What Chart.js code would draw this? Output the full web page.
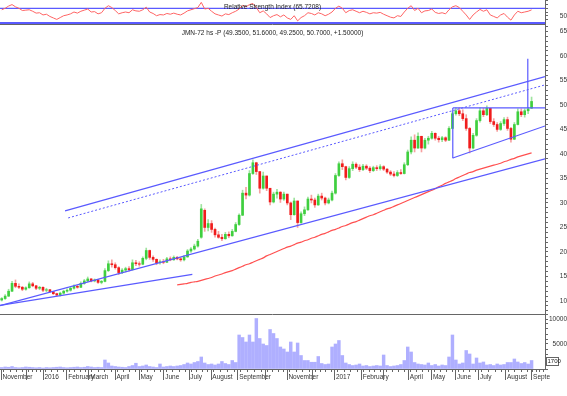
<!DOCTYPE html>
<html>
<head>
<meta charset="utf-8">
<script src="https://cdn.jsdelivr.net/npm/chart.js@4.4.1/dist/chart.umd.min.js"></script>
<style>
  body { margin: 0; background: #fff; }
  #wrap { position: relative; width: 567px; height: 396px; overflow: hidden; background: #fff; }
  canvas { position: absolute; left: 0; }
</style>
</head>
<body>
<div id="wrap">
  <canvas id="rsiChart" width="567" height="24" style="top:0"></canvas>
  <canvas id="priceChart" width="567" height="290" style="top:24px"></canvas>
  <canvas id="volChart" width="567" height="82" style="top:314px"></canvas>
</div>
<script>
// daily candles, Nov 2015 - Sep 2017 (one candle per ~3 sessions)
var open = [10.2,10.5,11.0,12.0,13.6,13.0,12.8,12.4,12.7,13.5,
  13.1,12.6,12.8,12.2,12.3,11.9,11.5,11.2,11.6,12.0,
  12.2,12.6,13.0,12.8,13.6,14.1,14.5,14.1,14.3,13.8,
  14.0,16.2,17.6,17.4,16.8,15.8,16.3,16.6,16.4,17.8,
  17.6,17.5,18.7,20.3,18.9,18.5,17.8,18.0,17.9,18.6,
  18.4,18.9,18.6,18.4,19.0,20.2,20.6,21.2,23.0,28.5,
  25.0,25.8,24.6,23.5,23.0,22.7,23.6,23.3,24.2,25.6,
  27.5,32.0,31.6,36.0,38.2,36.4,33.0,35.5,33.0,30.2,
  31.8,32.2,30.8,31.8,30.0,27.6,30.4,26.0,27.8,28.6,
  30.8,30.6,29.6,31.4,31.0,30.0,30.6,32.0,35.6,38.0,
  37.4,35.2,37.0,37.9,37.3,36.8,37.5,37.1,36.6,37.2,
  37.0,37.4,36.9,36.3,35.9,35.6,36.2,36.0,37.8,40.4,
  42.8,41.2,43.6,41.2,42.8,43.2,44.2,43.2,42.9,43.3,
  42.8,45.2,48.2,48.8,48.2,47.2,45.2,41.2,43.8,46.8,
  48.8,48.0,49.3,46.6,46.0,45.0,46.2,47.0,45.2,43.0,
  46.0,48.6,48.0,48.8,49.35];
var high = [10.7,11.3,12.4,14.0,14.3,13.5,13.0,12.9,13.9,13.8,
  13.2,13.0,12.9,12.6,12.4,11.9,11.6,11.8,12.2,12.5,
  12.8,13.3,13.2,13.9,14.4,14.9,14.6,14.5,14.4,14.2,
  16.6,18.2,18.4,17.8,17.0,16.6,16.9,17.0,18.4,18.3,
  18.0,19.0,20.8,20.4,19.2,18.6,18.4,18.5,18.9,19.0,
  19.2,19.1,18.9,19.3,20.5,20.9,21.6,22.6,29.7,28.8,
  26.6,26.4,24.9,24.2,23.6,24.0,24.1,24.6,26.0,27.8,
  32.6,33.2,36.6,38.8,38.3,36.4,36.3,35.5,33.0,32.2,
  32.8,32.3,32.2,31.8,30.2,31.0,30.4,28.2,29.2,31.2,
  31.6,31.0,31.8,32.0,31.2,31.0,32.4,36.0,38.4,38.8,
  37.5,37.4,38.4,38.2,37.8,37.9,37.8,37.4,37.5,37.6,
  37.8,37.6,37.0,36.6,36.4,36.6,36.8,38.2,40.8,43.5,
  43.9,44.3,43.6,43.2,43.6,44.6,44.3,43.6,43.6,43.5,
  45.6,48.6,49.4,49.4,49.0,48.0,45.4,44.2,47.2,49.4,
  49.3,49.8,49.3,47.2,46.4,46.6,47.4,47.5,45.4,46.4,
  49.2,49.2,49.2,49.5,51.6];
var low = [10.0,10.3,10.9,11.9,12.7,12.5,12.1,12.2,12.6,12.9,
  12.3,12.3,11.9,11.9,11.7,11.3,11.0,11.0,11.4,11.8,
  12.0,12.4,12.6,12.7,13.4,13.9,13.9,13.9,13.6,13.5,
  13.9,16.0,16.9,16.5,15.4,15.6,15.9,16.1,16.3,17.2,
  17.1,17.4,18.4,18.5,18.1,17.4,17.5,17.6,17.8,18.2,
  18.3,18.4,18.1,18.2,18.9,19.9,20.4,21.0,22.8,24.2,
  24.3,24.0,23.0,22.8,22.3,22.6,22.9,23.2,24.1,25.4,
  27.4,30.8,31.4,35.8,35.8,32.0,32.8,32.5,29.6,30.0,
  31.0,30.1,30.5,29.6,26.6,27.5,25.0,25.8,27.4,28.5,
  30.0,29.1,29.5,30.6,29.6,29.8,30.4,31.8,35.4,36.8,
  34.7,35.0,36.6,37.0,36.4,36.6,36.8,36.2,36.4,36.6,
  36.7,36.6,36.0,35.6,35.3,35.4,35.8,35.9,37.6,40.0,
  40.4,41.1,40.4,41.0,42.0,43.0,42.8,42.4,42.5,42.5,
  42.7,45.1,47.9,47.8,46.8,44.8,40.2,41.0,43.6,46.5,
  47.6,47.8,46.2,45.6,44.6,44.8,45.8,44.8,42.4,42.9,
  45.9,47.6,47.5,48.2,49.25];
var close = [10.5,11.0,12.0,13.6,13.0,12.8,12.4,12.7,13.5,13.1,
  12.6,12.8,12.2,12.3,11.9,11.5,11.2,11.6,12.0,12.2,
  12.6,13.0,12.8,13.6,14.1,14.5,14.1,14.3,13.8,14.0,
  16.2,17.6,17.4,16.8,15.8,16.3,16.6,16.4,17.8,17.6,
  17.5,18.7,20.3,18.9,18.5,17.8,18.0,17.9,18.6,18.4,
  18.9,18.6,18.4,19.0,20.2,20.6,21.2,22.2,28.8,25.0,
  25.8,24.6,23.5,23.0,22.7,23.6,23.3,24.2,25.6,27.5,
  32.0,31.6,36.0,38.2,36.4,33.0,35.5,33.0,30.2,31.8,
  32.2,30.8,31.8,30.0,27.6,30.4,26.0,27.8,28.6,30.8,
  30.6,29.6,31.4,31.0,30.0,30.6,32.0,35.6,38.0,37.4,
  35.2,37.0,37.9,37.3,36.8,37.5,37.1,36.6,37.2,37.0,
  37.4,36.9,36.3,35.9,35.6,36.2,36.0,37.8,40.4,42.8,
  41.2,43.6,41.2,42.8,43.2,44.2,43.2,42.9,43.3,42.8,
  45.2,48.2,48.8,48.2,47.2,45.2,41.2,43.8,46.8,48.8,
  48.0,49.3,46.6,46.0,45.0,46.2,47.0,45.2,43.0,46.0,
  48.6,48.0,48.8,49.2,50.7];
var volume = [300,400,350,500,300,250,300,400,350,300,
  250,300,200,300,250,300,350,400,300,250,
  300,350,400,300,350,500,400,300,350,300,
  1800,1200,600,500,400,350,300,500,700,1150,
  500,600,800,500,400,300,1000,400,500,600,
  500,600,700,900,1200,1000,1300,1500,2400,1200,
  900,1000,800,1000,1500,1100,900,1700,1300,6800,
  6300,5400,6800,5400,10100,6100,5000,4700,7900,7100,
  6100,4400,4000,3400,5400,3400,5200,2700,1700,1700,
  1350,1350,2500,1100,900,1000,4400,5000,5700,2700,
  1200,900,700,800,1000,600,700,500,600,700,
  600,2800,700,500,600,700,900,1700,4400,3400,
  1300,1000,900,800,1200,700,900,600,800,700,
  2400,6800,1800,1000,1200,3700,3000,1000,2200,1200,
  1400,800,900,700,1000,800,900,1300,1300,2000,
  1400,1100,1300,1000,1700];
var rsi = [66,70,76,80,74,70,64,65,66,62,
  57,58,52,54,48,44,40,45,50,52,
  55,60,57,62,65,68,60,61,55,58,
  70,77,72,64,55,58,60,58,66,63,
  62,66,73,60,56,50,53,52,56,54,
  57,54,52,57,63,66,69,72,86,68,
  70,62,55,52,49,55,53,58,62,68,
  78,74,80,83,72,58,63,55,45,50,
  53,47,52,44,40,50,36,45,50,58,
  56,52,58,55,50,54,60,70,76,70,
  58,64,66,62,58,62,59,55,58,57,
  59,54,50,46,44,50,48,60,70,77,
  64,70,58,63,64,68,59,56,58,55,
  66,74,77,72,62,52,40,52,60,67,
  62,66,52,48,44,52,56,46,38,52,
  62,58,60,62,65.7208];
// moving average, starts at candle maStart
var maStart = 51;
var ma = [13.3,13.4,13.5,13.6,13.8,13.9,14.0,14.2,14.4,
  14.6,14.8,15.1,15.3,15.5,15.8,16.0,16.2,16.5,16.8,
  17.1,17.4,17.6,17.9,18.2,18.5,18.8,19.2,19.5,19.8,
  20.1,20.4,20.7,21.0,21.2,21.5,21.8,22.0,22.3,22.5,
  22.8,23.0,23.3,23.6,23.8,24.1,24.4,24.6,24.9,25.2,
  25.4,25.7,26.0,26.2,26.5,26.8,27.1,27.4,27.6,27.9,
  28.2,28.5,28.8,29.0,29.3,29.6,29.9,30.2,30.5,30.8,
  31.1,31.4,31.7,32.0,32.3,32.6,32.9,33.3,33.6,34.0,
  34.3,34.6,35.0,35.3,35.6,35.9,36.2,36.4,36.7,36.9,
  37.1,37.3,37.5,37.7,37.9,38.1,38.4,38.6,38.9,39.1,
  39.4,39.6,39.8,40.0,40.2];
// drawn trend lines: [candle, price] end points
var channelLow = [[-0.5, 9.04], [157.9, 39.0]];
var channelHigh = [[18.4, 28.37], [157.9, 55.76]];
var channelMid = [[19.3, 26.94], [157.9, 54.08]];
var supportShort = [[-0.5, 9.1], [55.4, 15.45]];
var flagLow = [[131.1, 39.18], [157.9, 45.7]];
var flagTop = [[131.1, 49.39], [157.9, 49.39]];
var flagLeft = [[131.1, 49.39], [131.1, 39.14]];
var flagPole = [[152.9, 59.4], [152.9, 49.39]];
var rsiLevels = [70, 30];

var monthTicks = [-0.3,7.1,11.9,18.8,25.2,32.8,39.8,47.0,54.3,60.7,68.5,76.4,82.8,90.3,96.6,104.4,110.8,118.1,124.8,131.8,138.5,146.3,153.9];
var monthLabels = ['November','','2016','February','March','April','May','June','July','August','September','','November','','2017','February','','April','May','June','July','August','Septe'];
var priceTickLabels = [10,15,20,25,30,35,40,45,50,55,60,65];
var volTickLabels = [5000,10000];
var rsiTickLabels = [50];

var X_MIN = -0.5, X_MAX = 157.9;
var FONT = "'Liberation Sans Narrow', 'Liberation Sans', Arial, sans-serif";
var AXIS = '#666';
var BLUE = '#5a5aff';

Chart.defaults.font.family = FONT;
Chart.defaults.font.size = 6.5;
Chart.defaults.color = '#333';
Chart.defaults.animation = false;
Chart.defaults.responsive = false;
Chart.defaults.plugins.legend.display = false;
Chart.defaults.plugins.tooltip.enabled = false;
Chart.defaults.elements.point.radius = 0;

function xTickList() {
  var t = [];
  for (var k = 0; k < monthTicks.length; k++) {
    t.push({ value: monthTicks[k] });
    var next = k + 1 < monthTicks.length ? monthTicks[k + 1] : X_MAX;
    var step = (next - monthTicks[k]) / 4;
    for (var j = 1; j < 4; j++) {
      if (monthTicks[k] + j * step < X_MAX) t.push({ value: monthTicks[k] + j * step });
    }
  }
  return t;
}

function xAxis(show) {
  return {
    type: 'linear', min: X_MIN, max: X_MAX, display: show, offset: false,
    afterFit: function (s) {
      if (show) s.height = 27;
      s.paddingLeft = 0; s.paddingRight = 0;
    },
    afterBuildTicks: function (s) { s.ticks = xTickList(); },
    border: { display: true, color: AXIS },
    grid: { drawOnChartArea: false, drawTicks: true, tickLength: 3, color: AXIS },
    ticks: {
      autoSkip: false, maxRotation: 0, minRotation: 0, align: 'start', padding: 1,
      callback: function (v) {
        var k = monthTicks.indexOf(v);
        return k >= 0 && monthLabels[k] ? ' ' + monthLabels[k] : '';
      }
    }
  };
}

function yAxis(min, max, tickVals, shown, pad) {
  return {
    position: 'right', min: min, max: max,
    afterFit: function (s) { s.width = 22; s.paddingTop = 0; s.paddingBottom = 0; },
    afterBuildTicks: function (s) { s.ticks = tickVals.map(function (v) { return { value: v }; }); },
    border: { display: true, color: AXIS },
    grid: { drawOnChartArea: false, drawTicks: true, tickLength: 3, color: AXIS },
    ticks: {
      autoSkip: false, padding: pad, crossAlign: 'far',
      callback: function (v) { return shown.indexOf(v) >= 0 ? String(v) : ''; }
    }
  };
}

function range(a, b, step) {
  var r = [];
  for (var v = a; v <= b; v += step) r.push(v);
  return r;
}

function hLine(ctx, x1, x2, y, color, w) {
  ctx.save();
  ctx.strokeStyle = color;
  ctx.lineWidth = w;
  ctx.beginPath();
  ctx.moveTo(x1, y);
  ctx.lineTo(x2, y);
  ctx.stroke();
  ctx.restore();
}

function drawTitle(chart, text, dy) {
  var ctx = chart.ctx, a = chart.chartArea;
  ctx.save();
  ctx.font = '6.5px ' + FONT;
  ctx.fillStyle = '#222';
  ctx.textAlign = 'center';
  ctx.textBaseline = 'middle';
  ctx.fillText(text, (a.left + a.right) / 2, a.top + dy);
  ctx.restore();
}

function lineSet(points, color, dash, width) {
  return {
    type: 'line', order: 0,
    data: points.map(function (p) { return { x: p[0], y: p[1] }; }),
    borderColor: color, borderWidth: width || 1.2, borderDash: dash || [],
    pointRadius: 0, fill: false, tension: 0
  };
}

// ---- RSI panel ----
var last = rsi.length - 1;
new Chart(document.getElementById('rsiChart'), {
  type: 'line',
  data: {
    datasets: [{
      data: rsi.map(function (v, i) { return { x: i, y: v }; }),
      borderColor: '#ff6464', borderWidth: 1, pointRadius: 0, tension: 0
    }]
  },
  options: {
    layout: { padding: 0 },
    scales: {
      x: xAxis(false),
      y: yAxis(27.6, 92.4, [40, 50, 60, 70, 80, 90], rsiTickLabels, 11)
    }
  },
  plugins: [{
    id: 'rsiDecor',
    beforeDatasetsDraw: function (chart) {
      var y = chart.scales.y, a = chart.chartArea;
      rsiLevels.forEach(function (lv, k) {
        hLine(chart.ctx, a.left, a.right, y.getPixelForValue(lv), BLUE, k === 0 ? 1.3 : 2);
      });
    },
    afterDatasetsDraw: function (chart) {
      drawTitle(chart, 'Relative Strength Index (' + rsi[last].toFixed(4) + ')', 7);
    }
  }]
});

// ---- price panel ----
var up = close.map(function (c, i) { return c >= open[i]; });
var n = close.length - 1;
var priceTitle = 'JMN-72 hs -P (' + [open[n], high[n], low[n], close[n]].map(function (v) { return v.toFixed(4); }).join(', ') +
  ', +' + (close[n] - close[n - 1]).toFixed(5) + ')';

new Chart(document.getElementById('priceChart'), {
  type: 'bar',
  data: {
    datasets: [
      lineSet(channelLow, BLUE),
      lineSet(channelHigh, BLUE),
      lineSet(channelMid, BLUE, [2, 2], 1),
      lineSet(supportShort, BLUE),
      lineSet(flagLow, BLUE),
      lineSet(flagTop, BLUE),
      lineSet(flagLeft, BLUE),
      lineSet(flagPole, BLUE),
      {
        type: 'line', order: 0,
        data: ma.map(function (v, k) { return { x: maStart + k, y: v }; }),
        borderColor: '#ff5050', borderWidth: 1.2, pointRadius: 0, tension: 0.2
      },
      {
        type: 'bar', order: 1, grouped: false, barThickness: 2,
        data: open.map(function (o, i) { return { x: i, y: [o, close[i]] }; }),
        backgroundColor: up.map(function (u) { return u ? '#3fcf3f' : '#f01c1c'; })
      },
      {
        type: 'bar', order: 2, grouped: false, barThickness: 1,
        data: high.map(function (h, i) { return { x: i, y: [low[i], h] }; }),
        backgroundColor: up.map(function (u) { return u ? '#9fe39f' : '#f7a0a0'; })
      }
    ]
  },
  options: {
    layout: { padding: 0 },
    scales: {
      x: xAxis(false),
      y: yAxis(7.35, 66.5, range(8, 66, 1), priceTickLabels, 11)
    }
  },
  plugins: [{
    id: 'priceDecor',
    afterDraw: function (chart) {
      hLine(chart.ctx, 0, chart.chartArea.right, chart.chartArea.top + 0.5, AXIS, 1);
      drawTitle(chart, priceTitle, 9.5);
    }
  }]
});

// ---- volume panel ----
new Chart(document.getElementById('volChart'), {
  type: 'bar',
  data: {
    datasets: [{
      data: volume.map(function (v, i) { return { x: i, y: v }; }),
      backgroundColor: 'rgba(110,110,255,0.55)',
      barThickness: 2.8, grouped: false
    }]
  },
  options: {
    layout: { padding: 0 },
    scales: {
      x: xAxis(true),
      y: yAxis(0, 11000, range(0, 11000, 1000), volTickLabels, 2)
    }
  },
  plugins: [{
    id: 'volDecor',
    afterDraw: function (chart) {
      var ctx = chart.ctx, a = chart.chartArea, x = chart.scales.x, y = chart.scales.y;
      hLine(ctx, 0, a.right, a.top + 0.5, AXIS, 1);
      ctx.save();
      ctx.strokeStyle = AXIS;
      ctx.lineWidth = 1;
      monthTicks.forEach(function (v) {
        var px = Math.round(x.getPixelForValue(v)) + 0.5;
        ctx.beginPath();
        ctx.moveTo(px, a.bottom);
        ctx.lineTo(px, a.bottom + 11);
        ctx.stroke();
      });
      // last value box
      var lv = volume[volume.length - 1];
      var py = Math.round(y.getPixelForValue(lv));
      ctx.fillStyle = '#fff';
      ctx.fillRect(a.right + 1, py - 4, 13, 8);
      ctx.strokeRect(a.right + 1.5, py - 3.5, 12, 8);
      ctx.font = '6px ' + FONT;
      ctx.fillStyle = '#222';
      ctx.textBaseline = 'middle';
      ctx.fillText(String(lv), a.right + 2.5, py + 0.5);
      ctx.restore();
    }
  }]
});
</script>
</body>
</html>
